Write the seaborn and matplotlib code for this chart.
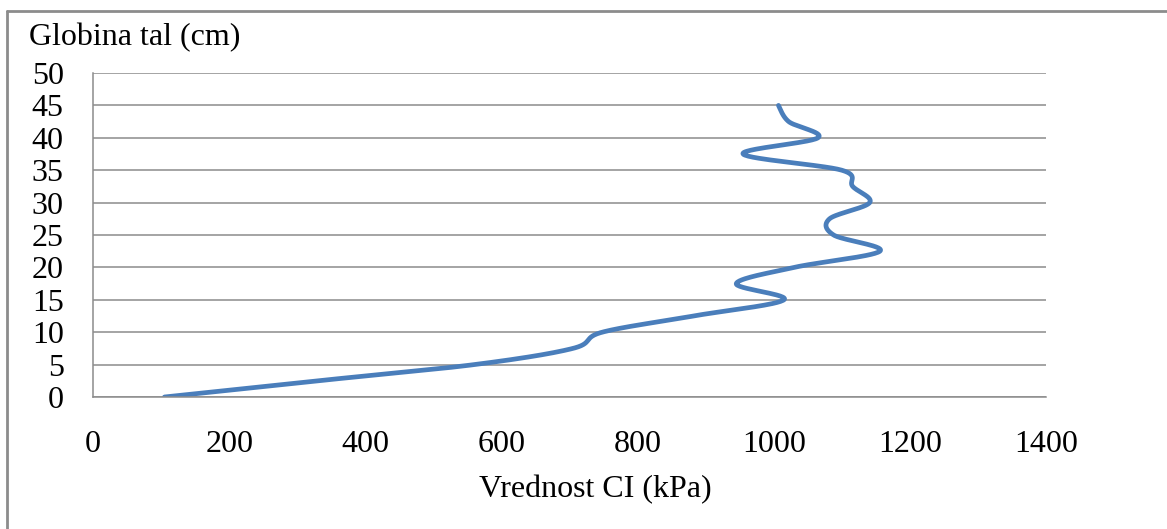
import numpy as np
import matplotlib
matplotlib.use("Agg")
import matplotlib.pyplot as plt
import seaborn as sns
from matplotlib.lines import Line2D

# values
depth = [0, 2.5, 5, 7.5, 10, 12.5, 15, 17.5, 20, 22.5, 25, 27.5, 30, 32.5, 35, 37.5, 40, 42.5, 45]
ci = [105, 330, 560, 705, 748, 882, 1015, 945, 1030, 1156, 1088, 1082, 1141, 1116, 1100, 955, 1065, 1022, 1007]

x_ticks = [0, 200, 400, 600, 800, 1000, 1200, 1400]
y_ticks = [0, 5, 10, 15, 20, 25, 30, 35, 40, 45, 50]
x_title = "Vrednost CI (kPa)"
y_title = "Globina tal (cm)"


def smooth(xs, ys, n=30):
    # Excel-like smoothed line: Catmull-Rom through the data points
    p = np.column_stack([xs, ys]).astype(float)
    p = np.vstack([p[0], p, p[-1]])
    out = []
    t = np.linspace(0, 1, n, endpoint=False)[:, None]
    for i in range(1, len(p) - 2):
        p0, p1, p2, p3 = p[i - 1], p[i], p[i + 1], p[i + 2]
        seg = 0.5 * ((2 * p1) + (-p0 + p2) * t + (2 * p0 - 5 * p1 + 4 * p2 - p3) * t ** 2
                     + (-p0 + 3 * p1 - 3 * p2 + p3) * t ** 3)
        out.append(seg)
    out.append(p[-2][None, :])
    out = np.vstack(out)
    return out[:, 0], out[:, 1]


sns.set_style("white")
plt.rcParams["font.family"] = ["Liberation Serif", "DejaVu Serif"]
plt.rcParams["text.color"] = "black"
plt.rcParams["xtick.labelcolor"] = "black"
plt.rcParams["ytick.labelcolor"] = "black"

fig = plt.figure(figsize=(11.67, 5.29), dpi=100)
ax = fig.add_axes([93 / 1167, 1 - 397 / 529, (1046 - 93) / 1167, (397 - 73) / 529])

sx, sy = smooth(ci, depth)
sns.lineplot(x=sx, y=sy, sort=False, estimator=None, color="#4a7ebb", linewidth=3.4, ax=ax)

ax.set_xlim(0, 1400)
ax.set_ylim(0, 50)
ax.set_xticks(x_ticks)
ax.set_yticks(y_ticks)
ax.set_xticklabels([str(v) for v in x_ticks], fontsize=23, color="black")
ax.set_yticklabels([str(v) for v in y_ticks], fontsize=23, color="black")
ax.yaxis.grid(True, color="#8c8c8c", linewidth=1.1)
ax.xaxis.grid(False)
ax.set_axisbelow(True)
for s in ["top", "right"]:
    ax.spines[s].set_visible(False)
for s in ["left", "bottom"]:
    ax.spines[s].set_color("#8c8c8c")
    ax.spines[s].set_linewidth(1.1)
ax.tick_params(axis="x", direction="out", length=6.5, width=1.1, color="#8c8c8c", pad=17)
ax.tick_params(axis="y", direction="out", length=6, width=1.1, color="#8c8c8c", pad=15)
ax.set_xlabel("")
ax.set_ylabel("")

fig.text(595 / 1167, 1 - 490 / 529, x_title, fontsize=23, ha="center", va="center", color="black")
fig.text(29 / 1167, 1 - 38 / 529, y_title, fontsize=23, ha="left", va="center", color="black")

# chart border (left and top edges visible in the reference)
fig.add_artist(Line2D([7 / 1167, 7 / 1167], [0, 1 - 11 / 529], transform=fig.transFigure,
                      color="#8c8c8c", linewidth=2))
fig.add_artist(Line2D([7 / 1167, 1], [1 - 11 / 529, 1 - 11 / 529], transform=fig.transFigure,
                      color="#8c8c8c", linewidth=2))

fig.savefig("out.png", dpi=100)
